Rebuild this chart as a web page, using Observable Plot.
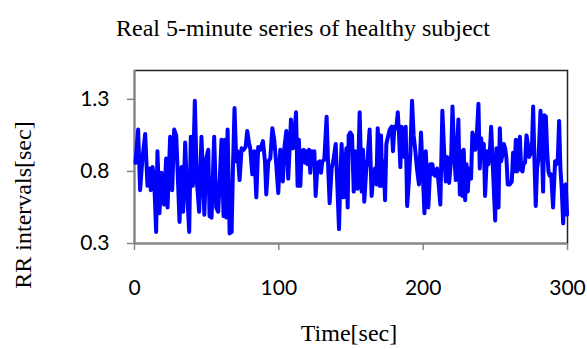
<!DOCTYPE html>
<html>
<head>
<meta charset="utf-8">
<script src="https://cdn.jsdelivr.net/npm/d3@7"></script>
<script src="https://cdn.jsdelivr.net/npm/@observablehq/plot@0.6"></script>
<style>
  body { margin: 0; background: #fff; }
  #chart { position: relative; width: 587px; height: 349px; overflow: hidden; }
  #chart svg { position: absolute; left: 0; top: 0; }
  .lbl { position: absolute; font-family: "Liberation Serif", "Times New Roman", serif; font-size: 24px; line-height: 24px; color: #000; white-space: nowrap; }
  #title { left: 303px; top: 16px; transform: translateX(-50%); }
  #xlabel { left: 349px; top: 321px; transform: translateX(-50%); }
  #ylabel { left: 23px; top: 205px; transform: translate(-50%, -50%) rotate(-90deg); }
</style>
</head>
<body>
<div id="chart">
  <div class="lbl" id="title">Real 5-minute series of healthy subject</div>
  <div class="lbl" id="xlabel">Time[sec]</div>
  <div class="lbl" id="ylabel">RR intervals[sec]</div>
</div>
<script>
// Beat times (seconds) and RR intervals (seconds) of a 5-minute recording
const time = [
  0.7, 2.5, 3.9, 5.5, 7.4, 9.0, 10.6, 11.3, 12.5, 13.6, 15.0, 15.9, 17.3, 18.7, 20.5, 21.9, 22.9, 24.7, 26.1, 27.5,
  28.9, 29.8, 31.2, 32.6, 33.7, 35.1, 36.3, 37.9, 39.0, 40.4, 41.8, 43.2, 44.8, 46.4, 48.4, 49.7,
  51.1, 52.0, 53.4, 55.2, 56.6, 58.0, 59.4, 60.3, 61.7, 62.6, 63.5, 64.5, 65.9, 67.3, 68.2, 69.3, 70.5, 71.4,
  72.8, 74.2, 75.6, 77.0, 78.1, 79.3, 80.2, 81.6, 83.0, 84.4, 85.7, 87.1, 89.0, 90.4, 91.3, 92.7, 94.1, 95.5,
  96.8, 98.2, 99.6,
  101.0, 101.9, 102.8, 103.8, 105.2, 106.5, 107.5, 108.4, 109.8, 110.7, 111.9, 113.0, 113.9, 114.9, 115.8,
  117.2, 118.1, 119.0, 119.9, 120.9, 121.8, 122.7, 123.6, 124.6, 125.5, 126.9, 128.3, 129.2, 130.1, 131.5,
  133.1, 134.3, 135.2, 136.6, 138.0, 139.4, 140.7, 141.7, 142.6, 143.5, 144.9, 145.8, 146.8, 147.7,
  148.4, 149.5, 150.7, 151.9, 152.8, 153.7, 154.6, 156.0, 157.4, 158.3, 159.2, 160.6, 161.5, 162.9, 164.3,
  165.3, 166.6, 167.6, 168.5, 169.9, 170.8, 171.7, 172.6, 173.6, 174.5, 175.4, 176.8, 178.2, 179.1, 180.1,
  181.4, 182.4, 183.3, 184.2, 185.1, 186.1, 187.0, 187.9, 188.9, 190.2, 191.1, 192.3, 193.4, 194.8, 195.7,
  197.1, 198.5,
  200.9, 201.8, 202.7, 203.6, 205.0, 206.4, 207.3, 208.3, 209.6, 210.6, 211.9, 213.3, 214.7, 215.7, 216.6,
  218.0, 219.4, 220.3, 221.7, 222.6, 223.5, 224.4, 225.4, 226.3, 227.2, 228.1, 229.1, 230.0, 230.9, 231.8,
  233.2, 234.1, 235.1, 236.0, 236.9, 238.3, 239.2, 240.1, 241.1, 242.0, 242.9, 244.3, 245.2, 246.2, 247.1,
  249.9, 250.8, 251.7, 252.2, 253.1, 254.0, 255.0, 255.9, 256.8, 257.7, 258.6, 260.0, 261.4, 262.3, 263.3,
  264.2, 265.1, 266.0, 267.0, 267.9, 268.8, 269.7, 270.6, 271.6, 272.5, 273.4, 274.3, 275.3, 276.2, 277.1,
  278.0, 278.9, 279.9, 281.3, 282.2, 283.1, 284.0, 285.0, 285.9, 286.8, 287.7, 288.7, 290.0, 291.4, 292.3,
  293.3, 294.2, 295.1, 296.0, 297.0, 297.9, 298.8, 299.7
];
const rr = [
  0.86, 1.09, 0.67, 0.89, 1.06, 0.70, 0.82, 0.67, 0.83, 0.75, 0.38, 0.94, 0.51, 0.79, 0.57, 0.89, 0.55, 1.04, 0.67, 1.09,
  1.05, 0.82, 0.45, 0.83, 0.52, 1.00, 0.68, 0.38, 1.04, 0.70, 1.29, 0.73, 0.52, 1.04, 0.50, 0.89,
  0.95, 0.49, 0.48, 1.04, 0.55, 0.52, 0.82, 1.02, 0.49, 1.02, 0.48, 1.09, 0.37, 0.38, 0.82, 1.24, 0.87, 0.94,
  0.74, 0.96, 0.95, 0.97, 1.08, 1.00, 0.96, 0.78, 0.94, 0.62, 0.97, 0.95, 1.01, 0.87, 0.64, 0.87, 0.89, 1.10,
  1.02, 0.85, 0.65,
  0.95, 0.75, 0.73, 0.96, 1.08, 0.75, 0.96, 1.16, 0.96, 1.04, 1.21, 0.70, 1.02, 0.70, 0.94,
  0.95, 0.86, 0.94, 0.85, 0.95, 0.79, 0.94, 0.92, 0.94, 0.63, 0.86, 0.87, 0.79, 0.87, 0.88,
  1.18, 0.80, 0.58, 0.82, 0.89, 0.99, 0.66, 0.40, 0.75, 0.99, 0.62, 0.82, 0.96, 0.55,
  1.05, 1.07, 1.05, 0.66, 0.94, 0.87, 0.68, 1.21, 0.66, 0.95, 0.59, 0.82, 0.89, 1.09, 0.63,
  0.75, 0.82, 0.71, 1.10, 0.70, 1.05, 0.70, 0.87, 0.60, 0.99, 1.03, 1.09, 1.11, 0.94, 1.11,
  1.10, 1.21, 1.05, 0.83, 1.11, 1.05, 0.90, 1.11, 0.56, 0.75, 0.92, 1.29, 1.05, 0.92, 0.82,
  0.71, 1.07,
  0.51, 0.94, 0.75, 0.55, 0.85, 0.85, 0.78, 0.77, 0.82, 0.73, 0.57, 1.22, 0.90, 0.73, 0.90,
  0.72, 0.89, 1.25, 0.89, 0.74, 0.94, 1.16, 0.64, 0.94, 0.63, 0.95, 0.60, 0.85, 0.66, 0.82,
  0.75, 1.07, 1.03, 0.95, 1.00, 1.27, 0.82, 1.03, 0.96, 0.99, 0.63, 0.94, 0.85, 0.94, 1.11,
  0.46, 0.96, 0.88, 0.55, 1.10, 0.87, 0.92, 0.99, 0.96, 0.89, 0.71, 0.71, 0.73, 0.93, 0.80,
  1.02, 0.80, 0.82, 1.04, 0.81, 0.80, 0.86, 0.86, 1.05, 0.99, 0.90, 0.92, 0.94, 1.25, 0.87,
  0.56, 0.82, 0.89, 1.22, 0.99, 0.66, 1.19, 1.18, 0.94, 0.80, 0.77, 0.78, 0.55, 0.87, 0.85,
  0.89, 1.15, 0.82, 0.68, 0.44, 0.70, 0.71, 0.50
];
const xTicks = [0, 100, 200, 300];
const yTicks = [0.3, 0.8, 1.3];

const series = time.map((t, i) => ({t, rr: rr[i]}));
const axisGray = "#868686";

const chart = Plot.plot({
  width: 587,
  height: 349,
  marginTop: 70,
  marginBottom: 106,
  marginLeft: 134,
  marginRight: 20,
  style: {fontFamily: "Lato, sans-serif", fontSize: "21px", color: "#000", background: "transparent", overflow: "visible"},
  x: {domain: [0, 300]},
  y: {domain: [0.3, 1.5]},
  marks: [
    Plot.frame({stroke: "#222", strokeWidth: 1.5}),
    Plot.ruleX([0], {stroke: axisGray, strokeWidth: 2}),
    Plot.ruleY([0.3], {stroke: axisGray, strokeWidth: 2}),
    Plot.axisX(xTicks, {tickSize: 7, tickPadding: 30, stroke: axisGray, strokeWidth: 1.5, fill: "#000", label: null}),
    Plot.axisY(yTicks, {tickSize: 7, tickPadding: 18, tickFormat: d3.format(".1f"), stroke: axisGray, strokeWidth: 1.5, fill: "#000", label: null}),
    Plot.lineY(series, {x: "t", y: "rr", stroke: "#0000ff", strokeWidth: 4, strokeLinejoin: "round", strokeLinecap: "round"})
  ]
});
document.getElementById("chart").prepend(chart);
</script>
</body>
</html>
